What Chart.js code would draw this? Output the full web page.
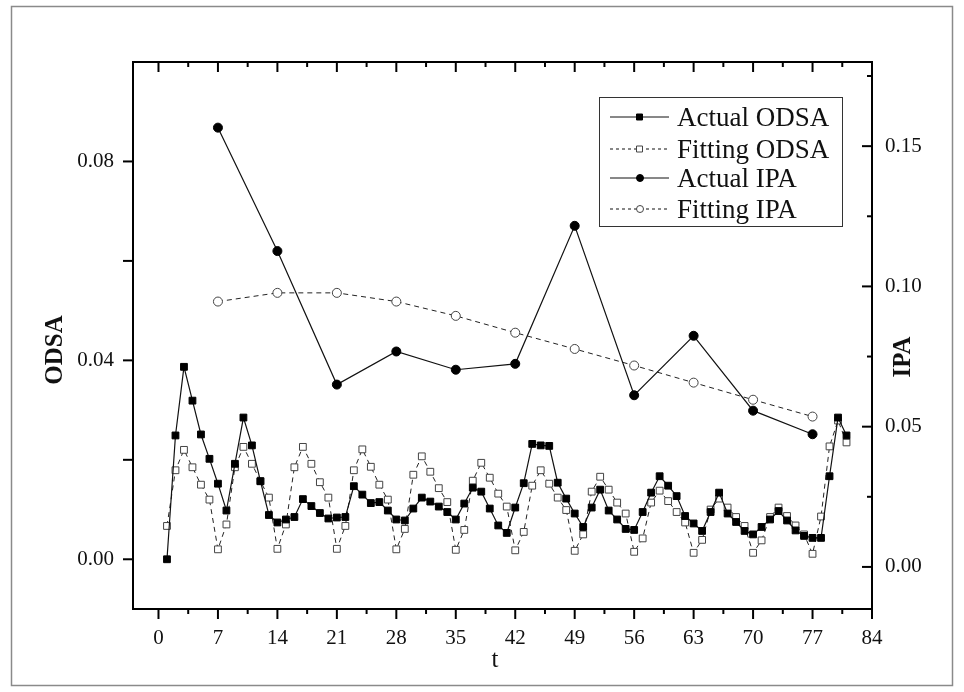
<!DOCTYPE html>
<html>
<head>
<meta charset="utf-8">
<script src="https://cdn.jsdelivr.net/npm/chart.js@4.4.1/dist/chart.umd.min.js"></script>
<style>
  html, body { margin: 0; padding: 0; background: #fff; }
  #wrap { position: relative; width: 964px; height: 692px; }
</style>
</head>
<body>
<div id="wrap"><canvas id="c" width="964" height="692"></canvas></div>
<script>
// time index for the ODSA series
const tOdsa = [
  1, 2, 3, 4, 5, 6, 7, 8, 9, 10, 11, 12, 13, 14, 15, 16, 17, 18, 19, 20,
  21, 22, 23, 24, 25, 26, 27, 28, 29, 30, 31, 32, 33, 34, 35, 36, 37, 38, 39, 40,
  41, 42, 43, 44, 45, 46, 47, 48, 49, 50, 51, 52, 53, 54, 55, 56, 57, 58, 59, 60,
  61, 62, 63, 64, 65, 66, 67, 68, 69, 70, 71, 72, 73, 74, 75, 76, 77, 78, 79, 80, 81
];
const actualOdsa = [
  0.0000, 0.0249, 0.0387, 0.0319, 0.0251, 0.0202, 0.0152, 0.0098, 0.0192, 0.0285,
  0.0229, 0.0157, 0.0089, 0.0074, 0.0080, 0.0085, 0.0121, 0.0107, 0.0093, 0.0082,
  0.0084, 0.0085, 0.0147, 0.0130, 0.0113, 0.0115, 0.0098, 0.0080, 0.0078, 0.0102,
  0.0124, 0.0116, 0.0106, 0.0095, 0.0080, 0.0112, 0.0144, 0.0136, 0.0102, 0.0068,
  0.0053, 0.0104, 0.0153, 0.0232, 0.0229, 0.0228, 0.0154, 0.0122, 0.0092, 0.0065,
  0.0104, 0.0140, 0.0098, 0.0080, 0.0061, 0.0059, 0.0095, 0.0134, 0.0167, 0.0148,
  0.0127, 0.0087, 0.0072, 0.0057, 0.0095, 0.0134, 0.0092, 0.0075, 0.0057, 0.0050,
  0.0065, 0.0080, 0.0097, 0.0078, 0.0058, 0.0047, 0.0043, 0.0043, 0.0167, 0.0285, 0.0249
];
const fittingOdsa = [
  0.0067, 0.0179, 0.0220, 0.0185, 0.0150, 0.0120, 0.0020, 0.0070, 0.0185, 0.0226,
  0.0192, 0.0157, 0.0124, 0.0021, 0.0070, 0.0185, 0.0226, 0.0192, 0.0155, 0.0124,
  0.0021, 0.0067, 0.0179, 0.0221, 0.0186, 0.0150, 0.0120, 0.0020, 0.0061, 0.0170,
  0.0207, 0.0176, 0.0143, 0.0115, 0.0019, 0.0059, 0.0158, 0.0194, 0.0164, 0.0132,
  0.0106, 0.0018, 0.0055, 0.0148, 0.0179, 0.0152, 0.0124, 0.0099, 0.0017, 0.0050,
  0.0136, 0.0166, 0.0140, 0.0114, 0.0092, 0.0015, 0.0042, 0.0114, 0.0138, 0.0117,
  0.0095, 0.0074, 0.0013, 0.0039, 0.0100, 0.0122, 0.0104, 0.0085, 0.0067, 0.0013,
  0.0038, 0.0085, 0.0104, 0.0087, 0.0068, 0.0050, 0.0011, 0.0086, 0.0227, 0.0279, 0.0235
];

// weekly IPA series
const tIpa = [7, 14, 21, 28, 35, 42, 49, 56, 63, 70, 77];
const actualIpa = [0.1566, 0.1126, 0.0650, 0.0768, 0.0703, 0.0724, 0.1216, 0.0612, 0.0824, 0.0557, 0.0473];
const fittingIpa = [0.0946, 0.0977, 0.0977, 0.0946, 0.0895, 0.0835, 0.0777, 0.0718, 0.0657, 0.0596, 0.0536];

// axis ticks
const tTicks = [0, 7, 14, 21, 28, 35, 42, 49, 56, 63, 70, 77, 84];
const odsaTicks = [0, 0.04, 0.08];
const odsaMarks = [0, 0.02, 0.04, 0.06, 0.08];
const ipaTicks = [0, 0.05, 0.10, 0.15];
const ipaMarks = [0, 0.025, 0.05, 0.075, 0.10, 0.125, 0.15, 0.175];

const SERIF = '"Liberation Serif", "Times New Roman", serif';
const tickFont = { family: SERIF, size: 21 };
const noGrid = { display: false, drawTicks: false };

const pts = (xs, ys) => xs.map((x, i) => ({ x, y: ys[i] }));

// Origin-style frame: ticks out on bottom/left, in on top/right, plus legend and titles
const framePlugin = {
  id: "frame",
  beforeDraw(chart) {
    const ctx = chart.ctx;
    ctx.save();
    ctx.fillStyle = "#fff";
    ctx.fillRect(0, 0, chart.width, chart.height);
    ctx.strokeStyle = "#8a8a8a";
    ctx.lineWidth = 1.5;
    ctx.strokeRect(11.5, 6.5, 941, 679);
    ctx.restore();
  },
  afterDraw(chart) {
    const ctx = chart.ctx;
    const { left, right, top, bottom } = chart.chartArea;
    const xs = chart.scales.x, ys = chart.scales.y, y1 = chart.scales.y1;
    const seg = (x1, yA, x2, yB) => { ctx.beginPath(); ctx.moveTo(x1, yA); ctx.lineTo(x2, yB); ctx.stroke(); };

    ctx.save();
    ctx.strokeStyle = "#000";
    ctx.lineWidth = 2;
    ctx.lineCap = "butt";
    ctx.strokeRect(left, top, right - left, bottom - top);

    // x: majors every 7, minors halfway between
    const half = (tTicks[1] - tTicks[0]) / 2;
    for (let v = tTicks[0]; v <= tTicks[tTicks.length - 1] + 1e-9; v += half) {
      const len = tTicks.includes(v) ? 10 : 5;
      const px = xs.getPixelForValue(v);
      seg(px, bottom, px, bottom + len);
      seg(px, top, px, top + len);
    }
    odsaMarks.forEach((v) => {
      const py = ys.getPixelForValue(v);
      seg(left - 10, py, left, py);
    });
    ipaMarks.forEach((v) => {
      const major = ipaTicks.some((t) => Math.abs(t - v) < 1e-9);
      const py = y1.getPixelForValue(v);
      seg(right - (major ? 10 : 5), py, right, py);
    });

    // axis titles
    ctx.fillStyle = "#111";
    ctx.textAlign = "center";
    ctx.textBaseline = "middle";
    ctx.font = "bold 25px " + SERIF;
    ctx.save();
    ctx.translate(56, 350);
    ctx.rotate(-Math.PI / 2);
    ctx.fillText("ODSA", 0, 0);
    ctx.restore();
    ctx.save();
    ctx.translate(904, 357);
    ctx.rotate(-Math.PI / 2);
    ctx.fillText("IPA", 0, 0);
    ctx.restore();
    ctx.font = "25px " + SERIF;
    ctx.fillText("t", 495, 660);

    // legend
    ctx.lineWidth = 1;
    ctx.strokeStyle = "#333";
    ctx.strokeRect(599.5, 97.5, 243, 129);
    const rows = [117, 149, 178, 209];
    chart.data.datasets.forEach((ds, i) => {
      const y = rows[i];
      ctx.strokeStyle = "#111";
      ctx.lineWidth = 1;
      ctx.setLineDash(ds.borderDash && ds.borderDash.length ? [3, 3] : []);
      seg(610, y, 669, y);
      ctx.setLineDash([]);
      ctx.fillStyle = ds.pointBackgroundColor;
      ctx.strokeStyle = ds.pointBorderColor;
      ctx.beginPath();
      if (ds.pointStyle === "rect") ctx.rect(636.5, y - 3, 6, 6);
      else ctx.arc(640, y, 3.5, 0, Math.PI * 2);
      ctx.fill();
      ctx.stroke();
      ctx.fillStyle = "#111";
      ctx.font = "27px " + SERIF;
      ctx.textAlign = "left";
      ctx.textBaseline = "alphabetic";
      ctx.fillText(ds.label, 677, y + 9);
    });
    ctx.restore();
  },
};

new Chart(document.getElementById("c"), {
  type: "line",
  data: {
    datasets: [
      {
        label: "Actual ODSA",
        data: pts(tOdsa, actualOdsa),
        yAxisID: "y",
        borderColor: "#111",
        borderWidth: 1.2,
        pointStyle: "rect",
        pointRadius: 4.8,
        pointBackgroundColor: "#000",
        pointBorderColor: "#000",
        pointBorderWidth: 1,
      },
      {
        label: "Fitting ODSA",
        data: pts(tOdsa, fittingOdsa),
        yAxisID: "y",
        borderColor: "#222",
        borderWidth: 1,
        borderDash: [5, 4],
        pointStyle: "rect",
        pointRadius: 4.8,
        pointBackgroundColor: "#fff",
        pointBorderColor: "#444",
        pointBorderWidth: 1,
      },
      {
        label: "Actual IPA",
        data: pts(tIpa, actualIpa),
        yAxisID: "y1",
        borderColor: "#111",
        borderWidth: 1.2,
        pointStyle: "circle",
        pointRadius: 4.5,
        pointBackgroundColor: "#000",
        pointBorderColor: "#000",
        pointBorderWidth: 1,
      },
      {
        label: "Fitting IPA",
        data: pts(tIpa, fittingIpa),
        yAxisID: "y1",
        borderColor: "#222",
        borderWidth: 1,
        borderDash: [5, 4],
        pointStyle: "circle",
        pointRadius: 4.5,
        pointBackgroundColor: "#fff",
        pointBorderColor: "#444",
        pointBorderWidth: 1,
      },
    ],
  },
  options: {
    responsive: false,
    animation: false,
    layout: { padding: { top: 62, left: 0, right: 0, bottom: 0 } },
    plugins: { legend: { display: false }, tooltip: { enabled: false } },
    elements: { line: { tension: 0, fill: false } },
    scales: {
      x: {
        type: "linear",
        min: -3,
        max: 84,
        afterBuildTicks: (axis) => { axis.ticks = tTicks.map((value) => ({ value })); },
        afterFit: (scale) => { scale.height = 83; },
        ticks: { font: tickFont, color: "#111", padding: 17, maxRotation: 0, autoSkip: false, callback: (v) => String(v) },
        grid: noGrid,
        border: { display: false },
      },
      y: {
        position: "left",
        min: -0.01,
        max: 0.10,
        afterBuildTicks: (axis) => { axis.ticks = odsaTicks.map((value) => ({ value })); },
        afterFit: (scale) => { scale.width = 133; },
        ticks: { font: tickFont, color: "#111", padding: 19, callback: (v) => v.toFixed(2) },
        grid: noGrid,
        border: { display: false },
      },
      y1: {
        position: "right",
        min: -0.015,
        max: 0.18,
        afterBuildTicks: (axis) => { axis.ticks = ipaTicks.map((value) => ({ value })); },
        afterFit: (scale) => { scale.width = 92; },
        ticks: { font: tickFont, color: "#111", padding: 13, callback: (v) => v.toFixed(2) },
        grid: noGrid,
        border: { display: false },
      },
    },
  },
  plugins: [framePlugin],
});
</script>
</body>
</html>
